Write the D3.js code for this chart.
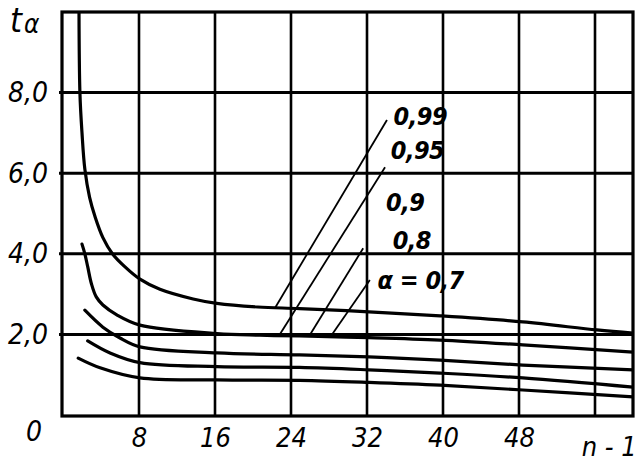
<!DOCTYPE html>
<html><head><meta charset="utf-8">
<script src="https://cdn.jsdelivr.net/npm/d3@7"></script>
<style>
body{margin:0;background:#fff;}
text{font-family:"DejaVu Sans Condensed","DejaVu Sans",sans-serif;font-style:italic;fill:#000;}
</style></head>
<body><svg id="c" width="637" height="470"></svg>
<script>
// ---- data ----
const xTicks = [8, 16, 24, 32, 40, 48, 56];
const xTickLabels = ["8", "16", "24", "32", "40", "48", ""];
const yTicks = [0, 2, 4, 6, 8];
const yTickLabels = ["0", "2,0", "4,0", "6,0", "8,0"];
const seriesNames = ["0,99", "0,95", "0,9", "0,8", "α = 0,7"];
const n099 = [1.68,1.78,2.0,2.3,2.8,3.4,4.2,5.2,6.5,8.1,10.2,13.7,16.2,20.5,24.9,32.2,39.7,48.4,56.2,60];
const t099 = [10.4,8.0,7.0,6.1,5.4,4.9,4.4,4.0,3.68,3.37,3.12,2.88,2.77,2.68,2.64,2.56,2.46,2.31,2.11,2.03];
const n095 = [2.0,2.3,2.6,3.0,3.5,4.2,5.7,8.1,16.2,20.7,24.9,32.2,39.7,48.4,60];
const t095 = [4.24,4.0,3.68,3.25,2.93,2.73,2.48,2.23,2.02,1.98,1.96,1.92,1.86,1.74,1.56];
const n090 = [2.3,4.2,6.0,8.1,16.2,24.9,32.2,39.7,48.4,60];
const t090 = [2.6,2.18,1.91,1.69,1.54,1.49,1.44,1.36,1.24,1.12];
const n080 = [2.6,4.95,8.1,16.2,24.9,32.2,39.7,48.4,60];
const t080 = [1.84,1.54,1.30,1.20,1.18,1.12,1.04,0.92,0.69];
const n070 = [1.6,3.9,8.1,16.2,24.9,32.2,39.7,48.4,60];
const t070 = [1.41,1.17,0.92,0.87,0.86,0.81,0.74,0.62,0.45];
// leader lines (data units): [n1,t1,n2,t2]
const leaders = [[34.1,7.32,22.3,2.65],[33.9,6.15,22.8,1.99],[31.6,4.14,26.0,1.99],[32.3,3.35,28.3,1.99]];
const labelPos = [[34.8,7.2],[34.5,6.36],[34.0,5.06],[34.7,4.11],[33.1,3.13]];

// ---- scales ----
const svg = d3.select("#c");
const x = d3.scaleLinear().domain([0,60]).range([63,633]);
const y = d3.scaleLinear().domain([0,10]).range([415,12]);
const L=62,R=633,T=12,B=416;

svg.append("defs").append("clipPath").attr("id","pc").append("rect")
  .attr("x",L).attr("y",T).attr("width",R-L).attr("height",B-T);

// grid
svg.append("g").selectAll("line").data(xTicks).join("line")
  .attr("x1",d=>x(d)).attr("x2",d=>x(d)).attr("y1",T).attr("y2",B)
  .attr("stroke","#000").attr("stroke-width",2.6);
svg.append("g").selectAll("line").data(yTicks.filter(d=>d>0)).join("line")
  .attr("x1",L-3).attr("x2",R).attr("y1",d=>y(d)).attr("y2",d=>y(d))
  .attr("stroke","#000").attr("stroke-width",3);

// frame
svg.append("rect").attr("x",L).attr("y",T).attr("width",R-L).attr("height",B-T)
  .attr("fill","none").attr("stroke","#000").attr("stroke-width",3.2);

// curves
const series = [[n099,t099],[n095,t095],[n090,t090],[n080,t080],[n070,t070]];
const line = d3.line().x(d=>x(d[0])).y(d=>y(d[1])).curve(d3.curveCatmullRom.alpha(0.5));
const cg = svg.append("g").attr("clip-path","url(#pc)");
series.forEach(([ns,ts])=>{
  cg.append("path").datum(ns.map((n,i)=>[n,ts[i]])).attr("d",line)
    .attr("fill","none").attr("stroke","#000").attr("stroke-width",3.2).attr("stroke-linecap","round");
});

// leader lines
svg.append("g").selectAll("line").data(leaders).join("line")
  .attr("x1",d=>x(d[0])).attr("y1",d=>y(d[1])).attr("x2",d=>x(d[2])).attr("y2",d=>y(d[3]))
  .attr("stroke","#000").attr("stroke-width",1.8);

// series labels
svg.append("g").selectAll("text").data(seriesNames).join("text")
  .attr("x",(d,i)=>x(labelPos[i][0])).attr("y",(d,i)=>y(labelPos[i][1]))
  .attr("font-size",25).attr("font-weight","bold").attr("letter-spacing",-0.5).text(d=>d);

// axis labels
const xa = svg.append("g").attr("transform",`translate(0,${B})`)
  .call(d3.axisBottom(x).tickValues(xTicks).tickFormat((d,i)=>xTickLabels[i]).tickSize(0).tickPadding(15));
xa.select(".domain").remove();
xa.selectAll("text").attr("font-size",27).attr("font-family",null).attr("dy","0.6em");
svg.append("text").attr("x",x(57.5)).attr("y",B+40).attr("text-anchor","middle").attr("font-size",27).text("n - 1");

const ya = svg.append("g").attr("transform",`translate(${L},0)`)
  .call(d3.axisLeft(y).tickValues(yTicks).tickFormat((d,i)=>yTickLabels[i]).tickSize(0).tickPadding(14));
ya.select(".domain").remove();
ya.selectAll("text").attr("font-size",28).attr("font-family",null);
ya.selectAll(".tick").filter(d=>d===0).select("text").attr("dy","0.9em").attr("transform","translate(-6,0)");

svg.append("text").attr("x",10).attr("y",32).attr("font-size",34).text("t");
svg.append("text").attr("x",24).attr("y",33).attr("font-size",26).text("α");
</script></body></html>
